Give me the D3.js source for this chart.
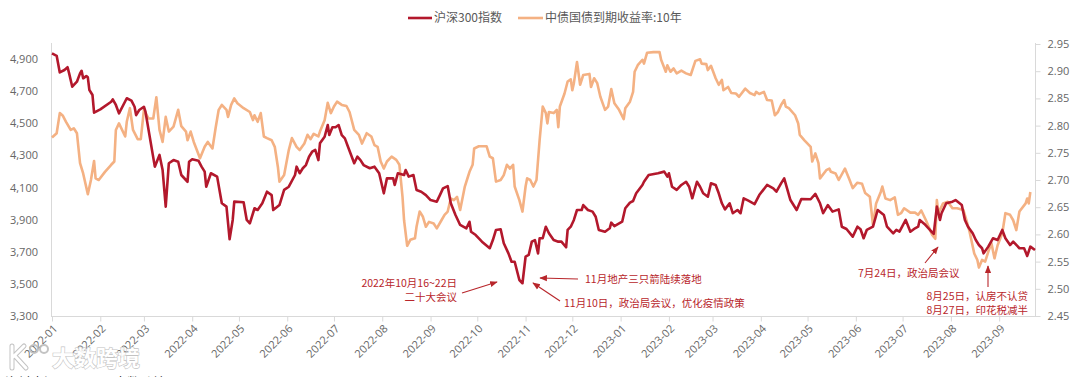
<!DOCTYPE html>
<html><head><meta charset="utf-8">
<script src="https://cdn.jsdelivr.net/npm/d3@7"></script>
<style>
body{margin:0;background:#fff;overflow:hidden;}
svg{display:block;font-family:"Noto Sans CJK SC","Noto Sans",sans-serif;}
</style>
</head><body><svg id="c" width="1080" height="377"></svg>
<script>
// ---------------- DATA ----------------
const seriesNames = ["沪深300指数", "中债国债到期收益率:10年"];
const leftTicks = [3300, 3500, 3700, 3900, 4100, 4300, 4500, 4700, 4900];
const rightTicks = [2.45, 2.50, 2.55, 2.60, 2.65, 2.70, 2.75, 2.80, 2.85, 2.90, 2.95];
const monthTickDates = ["2022-01-04","2022-02-04","2022-03-04","2022-04-04","2022-05-04","2022-06-04","2022-07-04","2022-08-04","2022-09-04","2022-10-04","2022-11-04","2022-12-04","2023-01-04","2023-02-04","2023-03-04","2023-04-04","2023-05-04","2023-06-04","2023-07-04","2023-08-04","2023-09-04"];
const monthTickLabels = ["2022-01","2022-02","2022-03","2022-04","2022-05","2022-06","2022-07","2022-08","2022-09","2022-10","2022-11","2022-12","2023-01","2023-02","2023-03","2023-04","2023-05","2023-06","2023-07","2023-08","2023-09"];

const hs300Dates = ["2022-01-04","2022-01-07","2022-01-09","2022-01-12","2022-01-14","2022-01-15","2022-01-17","2022-01-20","2022-01-22","2022-01-23","2022-01-24","2022-01-26","2022-01-27","2022-01-28","2022-01-30","2022-01-31","2022-02-04","2022-02-11","2022-02-12","2022-02-14","2022-02-16","2022-02-21","2022-02-24","2022-02-26","2022-02-27","2022-03-01","2022-03-04","2022-03-05","2022-03-11","2022-03-14","2022-03-16","2022-03-18","2022-03-20","2022-03-23","2022-03-26","2022-03-28","2022-04-01","2022-04-02","2022-04-04","2022-04-08","2022-04-10","2022-04-12","2022-04-13","2022-04-16","2022-04-20","2022-04-23","2022-04-26","2022-04-28","2022-04-30","2022-05-01","2022-05-07","2022-05-09","2022-05-11","2022-05-14","2022-05-16","2022-05-19","2022-05-22","2022-05-25","2022-05-26","2022-05-30","2022-06-02","2022-06-05","2022-06-09","2022-06-10","2022-06-12","2022-06-14","2022-06-16","2022-06-18","2022-06-20","2022-06-22","2022-06-24","2022-06-25","2022-06-28","2022-06-30","2022-07-01","2022-07-03","2022-07-05","2022-07-07","2022-07-09","2022-07-11","2022-07-13","2022-07-15","2022-07-17","2022-07-19","2022-07-21","2022-07-23","2022-07-27","2022-07-30","2022-08-02","2022-08-05","2022-08-07","2022-08-11","2022-08-12","2022-08-14","2022-08-18","2022-08-19","2022-08-21","2022-08-24","2022-08-26","2022-08-29","2022-09-01","2022-09-04","2022-09-08","2022-09-10","2022-09-12","2022-09-15","2022-09-17","2022-09-20","2022-09-23","2022-09-27","2022-09-29","2022-09-30","2022-10-03","2022-10-07","2022-10-12","2022-10-14","2022-10-16","2022-10-19","2022-10-21","2022-10-24","2022-10-26","2022-10-28","2022-10-31","2022-11-02","2022-11-04","2022-11-06","2022-11-08","2022-11-10","2022-11-12","2022-11-13","2022-11-15","2022-11-17","2022-11-19","2022-11-22","2022-11-25","2022-11-27","2022-11-30","2022-12-01","2022-12-03","2022-12-05","2022-12-07","2022-12-10","2022-12-11","2022-12-14","2022-12-17","2022-12-19","2022-12-21","2022-12-25","2022-12-28","2022-12-29","2022-12-31","2023-01-05","2023-01-07","2023-01-10","2023-01-12","2023-01-14","2023-01-18","2023-01-19","2023-01-22","2023-01-28","2023-02-01","2023-02-03","2023-02-04","2023-02-06","2023-02-09","2023-02-12","2023-02-15","2023-02-17","2023-02-19","2023-02-22","2023-02-24","2023-02-26","2023-03-01","2023-03-03","2023-03-06","2023-03-08","2023-03-10","2023-03-12","2023-03-15","2023-03-17","2023-03-20","2023-03-22","2023-03-24","2023-03-27","2023-03-31","2023-04-03","2023-04-08","2023-04-12","2023-04-14","2023-04-17","2023-04-19","2023-04-23","2023-04-27","2023-04-30","2023-05-06","2023-05-09","2023-05-12","2023-05-14","2023-05-17","2023-05-20","2023-05-24","2023-05-26","2023-05-29","2023-06-02","2023-06-05","2023-06-07","2023-06-09","2023-06-11","2023-06-15","2023-06-18","2023-06-22","2023-06-24","2023-06-28","2023-06-30","2023-07-02","2023-07-06","2023-07-09","2023-07-12","2023-07-14","2023-07-15","2023-07-18","2023-07-22","2023-07-24","2023-07-26","2023-07-28","2023-07-29","2023-08-01","2023-08-05","2023-08-07","2023-08-11","2023-08-13","2023-08-15","2023-08-18","2023-08-20","2023-08-22","2023-08-24","2023-08-25","2023-08-28","2023-08-31","2023-09-03","2023-09-06","2023-09-08","2023-09-11","2023-09-13","2023-09-17","2023-09-20","2023-09-22","2023-09-24","2023-09-27"];
const hs300Values = [4935,4920,4817,4832,4849,4811,4728,4759,4811,4827,4780,4794,4786,4707,4676,4566,4587,4634,4649,4614,4562,4656,4641,4603,4551,4583,4603,4572,4230,4303,4209,3981,4251,4271,4261,4178,4136,4261,4276,4267,4230,4199,4105,4189,4168,4002,3981,3778,3898,4012,4008,3898,3877,3971,3960,4002,4074,4053,3960,3991,4085,4105,4178,4230,4189,4220,4240,4292,4323,4334,4271,4375,4416,4489,4427,4475,4475,4489,4427,4406,4354,4303,4251,4292,4271,4240,4220,4230,4189,4064,4157,4157,4116,4189,4178,4209,4168,4178,4085,4074,4053,4022,4012,4053,4095,4109,4002,3929,3867,3846,3887,3825,3804,3763,3722,3773,3836,3840,3753,3690,3638,3638,3524,3504,3669,3680,3763,3773,3690,3784,3784,3856,3815,3773,3763,3763,3728,3836,3856,3898,3960,3960,3991,3960,3950,3918,3836,3825,3846,3881,3860,3887,3971,4006,4016,4064,4116,4136,4178,4189,4199,4168,4189,4105,4085,4116,4136,4105,4033,4136,4105,4064,4043,4126,4116,4064,4002,3964,4002,3940,3960,3940,4033,4018,3997,4053,4116,4095,4074,4126,4157,4022,3960,4029,4027,4060,4002,3940,3991,3950,3964,3856,3842,3794,3856,3840,3784,3836,3856,3960,3929,3856,3815,3836,3825,3898,3825,3846,3856,3898,3873,3831,3811,3981,3898,3940,4002,4012,4022,3991,3898,3856,3815,3773,3742,3722,3690,3732,3784,3773,3836,3784,3742,3763,3722,3722,3674,3732,3711];

const yieldDates = ["2022-01-04","2022-01-07","2022-01-09","2022-01-11","2022-01-13","2022-01-16","2022-01-18","2022-01-20","2022-01-22","2022-01-24","2022-01-27","2022-01-29","2022-01-31","2022-02-01","2022-02-03","2022-02-07","2022-02-11","2022-02-13","2022-02-14","2022-02-16","2022-02-20","2022-02-21","2022-02-23","2022-02-25","2022-02-28","2022-03-02","2022-03-04","2022-03-07","2022-03-10","2022-03-12","2022-03-14","2022-03-16","2022-03-18","2022-03-20","2022-03-23","2022-03-26","2022-03-28","2022-03-31","2022-04-01","2022-04-03","2022-04-05","2022-04-09","2022-04-12","2022-04-14","2022-04-17","2022-04-19","2022-04-21","2022-04-23","2022-04-26","2022-04-27","2022-04-29","2022-05-01","2022-05-03","2022-05-07","2022-05-11","2022-05-13","2022-05-14","2022-05-16","2022-05-18","2022-05-20","2022-05-22","2022-05-25","2022-05-27","2022-05-29","2022-05-30","2022-06-02","2022-06-05","2022-06-07","2022-06-10","2022-06-12","2022-06-15","2022-06-17","2022-06-19","2022-06-21","2022-06-24","2022-06-25","2022-06-28","2022-06-30","2022-07-02","2022-07-04","2022-07-06","2022-07-09","2022-07-12","2022-07-14","2022-07-17","2022-07-20","2022-07-22","2022-07-25","2022-07-28","2022-07-30","2022-08-01","2022-08-03","2022-08-05","2022-08-07","2022-08-10","2022-08-13","2022-08-15","2022-08-17","2022-08-18","2022-08-20","2022-08-22","2022-08-25","2022-08-26","2022-08-28","2022-08-30","2022-09-01","2022-09-03","2022-09-06","2022-09-08","2022-09-11","2022-09-13","2022-09-15","2022-09-17","2022-09-19","2022-09-21","2022-09-23","2022-09-26","2022-09-28","2022-09-29","2022-10-01","2022-10-02","2022-10-05","2022-10-10","2022-10-12","2022-10-14","2022-10-16","2022-10-19","2022-10-21","2022-10-23","2022-10-25","2022-10-27","2022-10-28","2022-10-31","2022-11-02","2022-11-04","2022-11-05","2022-11-07","2022-11-09","2022-11-11","2022-11-13","2022-11-15","2022-11-17","2022-11-18","2022-11-19","2022-11-22","2022-11-24","2022-11-25","2022-11-26","2022-11-29","2022-12-01","2022-12-03","2022-12-04","2022-12-05","2022-12-07","2022-12-09","2022-12-11","2022-12-15","2022-12-16","2022-12-18","2022-12-20","2022-12-22","2022-12-25","2022-12-27","2022-12-29","2022-12-31","2023-01-03","2023-01-06","2023-01-07","2023-01-10","2023-01-12","2023-01-13","2023-01-15","2023-01-18","2023-01-19","2023-01-21","2023-01-25","2023-01-29","2023-01-30","2023-02-02","2023-02-03","2023-02-05","2023-02-07","2023-02-09","2023-02-12","2023-02-15","2023-02-18","2023-02-21","2023-02-24","2023-02-25","2023-02-28","2023-03-01","2023-03-03","2023-03-06","2023-03-08","2023-03-10","2023-03-11","2023-03-14","2023-03-16","2023-03-19","2023-03-21","2023-03-25","2023-03-28","2023-03-31","2023-04-01","2023-04-03","2023-04-06","2023-04-08","2023-04-11","2023-04-13","2023-04-15","2023-04-17","2023-04-19","2023-04-20","2023-04-22","2023-04-26","2023-04-28","2023-04-29","2023-05-02","2023-05-06","2023-05-07","2023-05-09","2023-05-11","2023-05-12","2023-05-16","2023-05-18","2023-05-19","2023-05-22","2023-05-24","2023-05-28","2023-05-31","2023-06-02","2023-06-05","2023-06-08","2023-06-10","2023-06-13","2023-06-15","2023-06-17","2023-06-20","2023-06-21","2023-06-23","2023-06-26","2023-06-29","2023-07-01","2023-07-03","2023-07-05","2023-07-09","2023-07-12","2023-07-14","2023-07-16","2023-07-19","2023-07-23","2023-07-25","2023-07-26","2023-07-27","2023-07-30","2023-08-02","2023-08-05","2023-08-08","2023-08-12","2023-08-14","2023-08-16","2023-08-19","2023-08-21","2023-08-22","2023-08-24","2023-08-26","2023-08-28","2023-08-30","2023-09-01","2023-09-03","2023-09-06","2023-09-08","2023-09-11","2023-09-13","2023-09-15","2023-09-17","2023-09-21","2023-09-22","2023-09-23","2023-09-24"];
const yieldValues = [2.778,2.786,2.823,2.818,2.807,2.792,2.795,2.786,2.731,2.712,2.674,2.700,2.735,2.703,2.700,2.715,2.728,2.734,2.792,2.804,2.780,2.807,2.832,2.792,2.775,2.775,2.829,2.813,2.813,2.852,2.792,2.770,2.816,2.789,2.798,2.829,2.799,2.789,2.773,2.789,2.770,2.740,2.761,2.770,2.758,2.795,2.829,2.838,2.829,2.816,2.838,2.850,2.841,2.832,2.825,2.810,2.819,2.807,2.823,2.780,2.777,2.773,2.761,2.724,2.697,2.709,2.755,2.777,2.761,2.755,2.767,2.783,2.775,2.785,2.780,2.789,2.810,2.842,2.823,2.835,2.844,2.838,2.836,2.825,2.792,2.783,2.767,2.786,2.780,2.764,2.761,2.734,2.721,2.734,2.743,2.737,2.728,2.669,2.626,2.579,2.590,2.593,2.614,2.642,2.633,2.614,2.623,2.620,2.611,2.626,2.636,2.642,2.666,2.663,2.669,2.645,2.688,2.706,2.715,2.728,2.758,2.762,2.762,2.743,2.740,2.697,2.700,2.709,2.728,2.721,2.728,2.688,2.663,2.642,2.688,2.703,2.700,2.688,2.700,2.773,2.835,2.823,2.804,2.825,2.823,2.829,2.797,2.835,2.859,2.881,2.885,2.865,2.878,2.917,2.875,2.893,2.895,2.871,2.887,2.878,2.853,2.829,2.835,2.867,2.841,2.829,2.812,2.832,2.844,2.862,2.899,2.911,2.921,2.914,2.934,2.935,2.935,2.921,2.899,2.911,2.899,2.905,2.896,2.901,2.896,2.893,2.919,2.922,2.914,2.913,2.902,2.910,2.887,2.875,2.884,2.865,2.871,2.860,2.859,2.853,2.868,2.860,2.856,2.862,2.858,2.862,2.847,2.846,2.819,2.825,2.838,2.847,2.835,2.832,2.819,2.804,2.783,2.773,2.761,2.734,2.749,2.731,2.703,2.718,2.721,2.715,2.712,2.700,2.721,2.700,2.685,2.695,2.693,2.676,2.669,2.617,2.657,2.678,2.688,2.666,2.663,2.668,2.636,2.639,2.648,2.640,2.640,2.636,2.644,2.626,2.599,2.592,2.663,2.639,2.657,2.660,2.648,2.648,2.645,2.626,2.605,2.565,2.553,2.539,2.553,2.550,2.568,2.584,2.556,2.580,2.602,2.639,2.636,2.626,2.608,2.642,2.657,2.666,2.657,2.678];

// annotations: text lines and arrow end points
const annotations = [
  {lines:["2022年10月16~22日","二十大会议"], tx:457, ty:283, anchor:"end", from:[462,293], to:[497,282]},
  {lines:["11月地产三只箭陆续落地"], tx:585, ty:279, anchor:"start", from:[578,279], to:[540,278]},
  {lines:["11月10日，政治局会议，优化疫情政策"], tx:564, ty:303, anchor:"start", from:[560,301], to:[533,283]},
  {lines:["7月24日，政治局会议"], tx:858, ty:273, anchor:"start", from:[925,263], to:[938,247]},
  {lines:["8月25日，认房不认贷","8月27日，印花税减半"], tx:1028, ty:296, anchor:"end", from:[988,287], to:[988,266]}
];

// ---------------- CHART ----------------
const parse = d3.timeParse("%Y-%m-%d");
const svg = d3.select("#c");
const redColor = "#b3182c", orangeColor = "#f4b183", annoColor = "#b8262b";
const axisColor = "#d9d9d9", labelColor = "#666666";

const x = d3.scaleTime().domain([parse("2022-01-04"), parse("2023-09-27")]).range([52, 1035]);
const yL = d3.scaleLinear().domain([3300, 5000]).range([316, 43]);
const yR = d3.scaleLinear().domain([2.45, 2.95]).range([316, 44]);

// axes lines
svg.append("line").attr("x1",51.5).attr("x2",51.5).attr("y1",43).attr("y2",316).attr("stroke",axisColor);
svg.append("line").attr("x1",1035.5).attr("x2",1035.5).attr("y1",43).attr("y2",316).attr("stroke",axisColor);
svg.append("line").attr("x1",51).attr("x2",1036).attr("y1",316.5).attr("y2",316.5).attr("stroke",axisColor);

// left axis
const gL = svg.append("g").attr("transform","translate(51,0)")
  .call(d3.axisLeft(yL).tickValues(leftTicks).tickSize(0).tickPadding(13).tickFormat(d3.format(",")));
gL.select(".domain").remove();
gL.selectAll("text").attr("fill",labelColor).style("font-size","11px").style("font-family","'Open Sans','Noto Sans',sans-serif");

// right axis
const gR = svg.append("g").attr("transform","translate(1035.5,0)")
  .call(d3.axisRight(yR).tickValues(rightTicks).tickSize(5).tickPadding(7).tickFormat(d3.format(".2f")));
gR.select(".domain").remove();
gR.selectAll("line").attr("stroke",axisColor);
gR.selectAll("text").attr("fill",labelColor).style("font-size","11px").style("font-family","'Open Sans','Noto Sans',sans-serif");

// x axis
const tickDates = monthTickDates.map(parse);
const gX = svg.append("g").attr("transform","translate(0,316.5)")
  .call(d3.axisBottom(x).tickValues(tickDates).tickSize(5).tickFormat((d,i)=>monthTickLabels[i]));
gX.select(".domain").remove();
gX.selectAll("line").attr("stroke",axisColor);
gX.selectAll("text")
  .attr("fill",labelColor).style("font-size","11px").style("font-family","'Open Sans','Noto Sans',sans-serif")
  .attr("text-anchor","end").attr("dy","0.35em").attr("y",0)
  .attr("transform","translate(3,10) rotate(-45)");

// lines
const redData = hs300Dates.map((d,i)=>({date:parse(d), v:hs300Values[i]}));
const orData = yieldDates.map((d,i)=>({date:parse(d), v:yieldValues[i]}));
svg.append("path").datum(orData).attr("fill","none").attr("stroke",orangeColor).attr("stroke-width",2.6)
  .attr("stroke-linejoin","round")
  .attr("d", d3.line().x(d=>x(d.date)).y(d=>yR(d.v)));
svg.append("path").datum(redData).attr("fill","none").attr("stroke",redColor).attr("stroke-width",2.6)
  .attr("stroke-linejoin","round")
  .attr("d", d3.line().x(d=>x(d.date)).y(d=>yL(d.v)));

// legend
const leg = svg.append("g").style("font-size","12px");
leg.append("line").attr("x1",408).attr("x2",432).attr("y1",18).attr("y2",18).attr("stroke",redColor).attr("stroke-width",2.6);
leg.append("text").attr("x",434).attr("y",18).attr("dy","0.35em").attr("fill","#595959").text(seriesNames[0]);
leg.append("line").attr("x1",518).attr("x2",543).attr("y1",18).attr("y2",18).attr("stroke",orangeColor).attr("stroke-width",2.6);
leg.append("text").attr("x",545).attr("y",18).attr("dy","0.35em").attr("fill","#595959").text(seriesNames[1]);

// arrow marker
svg.append("defs").append("marker").attr("id","arr").attr("viewBox","0 0 10 10")
  .attr("refX",9).attr("refY",5).attr("markerWidth",7).attr("markerHeight",7).attr("orient","auto-start-reverse")
  .append("path").attr("d","M0,1 L10,5 L0,9 z").attr("fill",annoColor);

const ga = svg.append("g").style("font-size","10.5px").attr("fill",annoColor);
annotations.forEach(a=>{
  a.lines.forEach((l,i)=>{
    ga.append("text").attr("x",a.tx).attr("y",a.ty + i*14).attr("dy","0.35em").attr("text-anchor",a.anchor).text(l);
  });
  ga.append("line").attr("x1",a.from[0]).attr("y1",a.from[1]).attr("x2",a.to[0]).attr("y2",a.to[1])
    .attr("stroke",annoColor).attr("stroke-width",1.1).attr("marker-end","url(#arr)");
});

// watermark
const wm = svg.append("g").attr("opacity",0.9);
wm.append("path").attr("d","M12,346 L12,368 M12,358 L24,346 M15,356 L26,368").attr("stroke","#bdbdbd").attr("stroke-width",5).attr("fill","none").attr("stroke-linecap","round");
wm.append("path").attr("d","M12,346 L12,368 M12,358 L24,346 M15,356 L26,368").attr("stroke","#ffffff").attr("stroke-width",3).attr("fill","none").attr("stroke-linecap","round");
wm.append("circle").attr("cx",34).attr("cy",349).attr("r",4).attr("fill","none").attr("stroke","#bdbdbd").attr("stroke-width",2);
wm.append("circle").attr("cx",44).attr("cy",349).attr("r",4).attr("fill","none").attr("stroke","#bdbdbd").attr("stroke-width",2);
wm.append("text").attr("x",52).attr("y",366).style("font-size","22px").style("font-weight","bold")
  .attr("fill","#ffffff").attr("stroke","#bdbdbd").attr("stroke-width",1.2).attr("paint-order","stroke").text("大数跨境");

// source line, cut off at the bottom edge as in the reference
svg.append("text").attr("x",5).attr("y",387).style("font-size","13px").attr("fill","#333").text("资料来源：Wind，大数跨境");
</script></body></html>
